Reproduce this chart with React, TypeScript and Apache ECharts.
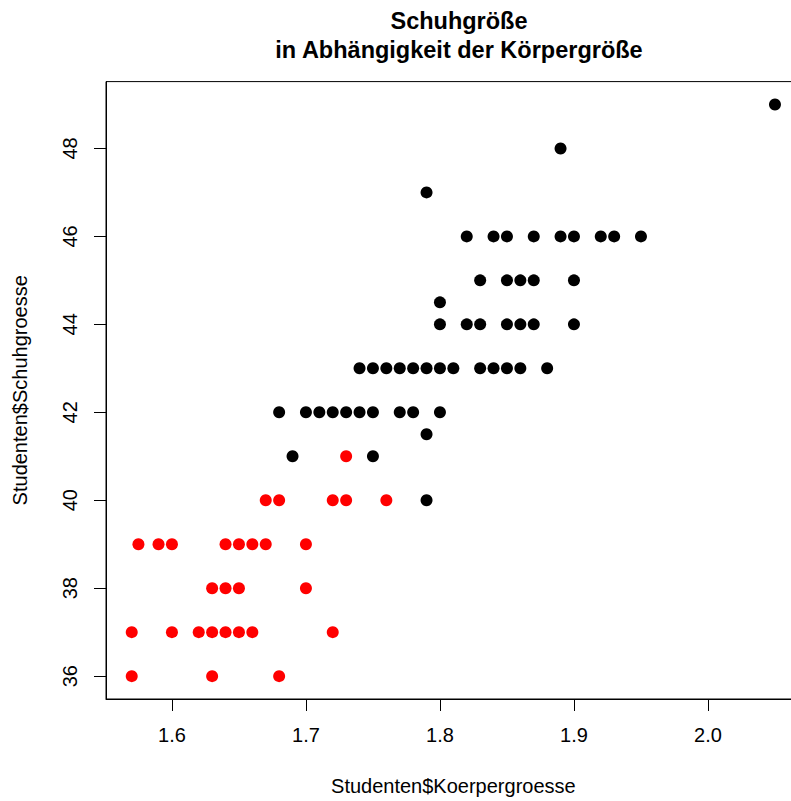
import React, { useEffect, useRef } from "react";
import * as echarts from "echarts";

// Black group (Körpergröße in m, Schuhgröße)
const blackHeight = [
  2.05, 1.89, 1.79,
  1.82, 1.84, 1.85, 1.87, 1.89, 1.9, 1.92, 1.93, 1.95,
  1.83, 1.85, 1.86, 1.87, 1.9,
  1.8,
  1.8, 1.82, 1.83, 1.85, 1.86, 1.87, 1.9,
  1.74, 1.75, 1.76, 1.77, 1.78, 1.79, 1.8, 1.81, 1.83, 1.84, 1.85, 1.86, 1.88,
  1.68, 1.7, 1.71, 1.72, 1.73, 1.74, 1.75, 1.77, 1.78, 1.8,
  1.79,
  1.69, 1.75,
  1.79,
];
const blackShoe = [
  49, 48, 47,
  46, 46, 46, 46, 46, 46, 46, 46, 46,
  45, 45, 45, 45, 45,
  44.5,
  44, 44, 44, 44, 44, 44, 44,
  43, 43, 43, 43, 43, 43, 43, 43, 43, 43, 43, 43, 43,
  42, 42, 42, 42, 42, 42, 42, 42, 42, 42,
  41.5,
  41, 41,
  40,
];

// Red group
const redHeight = [
  1.73,
  1.67, 1.68, 1.72, 1.73, 1.76,
  1.575, 1.59, 1.6, 1.64, 1.65, 1.66, 1.67, 1.7,
  1.63, 1.64, 1.65, 1.7,
  1.57, 1.6, 1.62, 1.63, 1.64, 1.65, 1.66, 1.72,
  1.57, 1.63, 1.68,
];
const redShoe = [
  41,
  40, 40, 40, 40, 40,
  39, 39, 39, 39, 39, 39, 39, 39,
  38, 38, 38, 38,
  37, 37, 37, 37, 37, 37, 37, 37,
  36, 36, 36,
];

const xTicks = [1.6, 1.7, 1.8, 1.9, 2.0];
const yTicks = [36, 38, 40, 42, 44, 46, 48];

const FONT = "Liberation Sans, Arial, Helvetica, sans-serif";

export default function App() {
  const ref = useRef<HTMLDivElement>(null);

  useEffect(() => {
    if (!ref.current) return;
    const chart = echarts.init(ref.current, undefined, { renderer: "svg" });
    const black = blackHeight.map((h, i) => [h, blackShoe[i]]);
    const red = redHeight.map((h, i) => [h, redShoe[i]]);
    chart.setOption({
      animation: false,
      backgroundColor: "#ffffff",
      title: {
        text: "Schuhgröße\nin Abhängigkeit der Körpergröße",
        left: 454,
        top: 1,
        textAlign: "center",
        textStyle: {
          fontFamily: FONT,
          fontSize: 23.5,
          fontWeight: "bold",
          color: "#000",
          lineHeight: 29,
        },
      },
      grid: {
        left: 106,
        right: 0.3,
        top: 81.6,
        bottom: 96.6,
        show: true,
        borderColor: "#000",
        borderWidth: 1,
        backgroundColor: "transparent",
      },
      xAxis: {
        type: "value",
        min: 1.5508,
        max: 2.0692,
        name: "Studenten$Koerpergroesse",
        nameLocation: "middle",
        nameGap: 77,
        nameTextStyle: { fontFamily: FONT, fontSize: 20, color: "#000" },
        splitLine: { show: false },
        axisLine: { show: true, lineStyle: { color: "#000" } },
        axisTick: {
          show: true,
          length: 12,
          customValues: xTicks,
          lineStyle: { color: "#000" },
        },
        axisLabel: {
          customValues: xTicks,
          formatter: (v: number) => v.toFixed(1),
          fontFamily: FONT,
          fontSize: 20,
          color: "#000",
          margin: 26,
        },
      },
      yAxis: {
        type: "value",
        min: 35.48,
        max: 49.52,
        name: "Studenten$Schuhgroesse",
        nameLocation: "middle",
        nameGap: 76,
        nameRotate: 90,
        nameTextStyle: { fontFamily: FONT, fontSize: 20, color: "#000" },
        splitLine: { show: false },
        axisLine: { show: true, lineStyle: { color: "#000" } },
        axisTick: {
          show: true,
          length: 12,
          customValues: yTicks,
          lineStyle: { color: "#000" },
        },
        axisLabel: {
          customValues: yTicks,
          rotate: 90,
          fontFamily: FONT,
          fontSize: 20,
          color: "#000",
          margin: 26,
        },
      },
      series: [
        {
          type: "scatter",
          data: black,
          symbol: "circle",
          symbolSize: 12,
          itemStyle: { color: "#000", opacity: 1 },
          emphasis: { disabled: true },
        },
        {
          type: "scatter",
          data: red,
          symbol: "circle",
          symbolSize: 12,
          itemStyle: { color: "#ff0000", opacity: 1 },
          emphasis: { disabled: true },
        },
      ],
    });
    return () => chart.dispose();
  }, []);

  return (
    <div
      style={{
        position: "fixed",
        left: 0,
        top: 0,
        width: 791,
        height: 801,
        overflow: "hidden",
        background: "#fff",
      }}
    >
      <div ref={ref} style={{ width: 801, height: 801 }} />
    </div>
  );
}
